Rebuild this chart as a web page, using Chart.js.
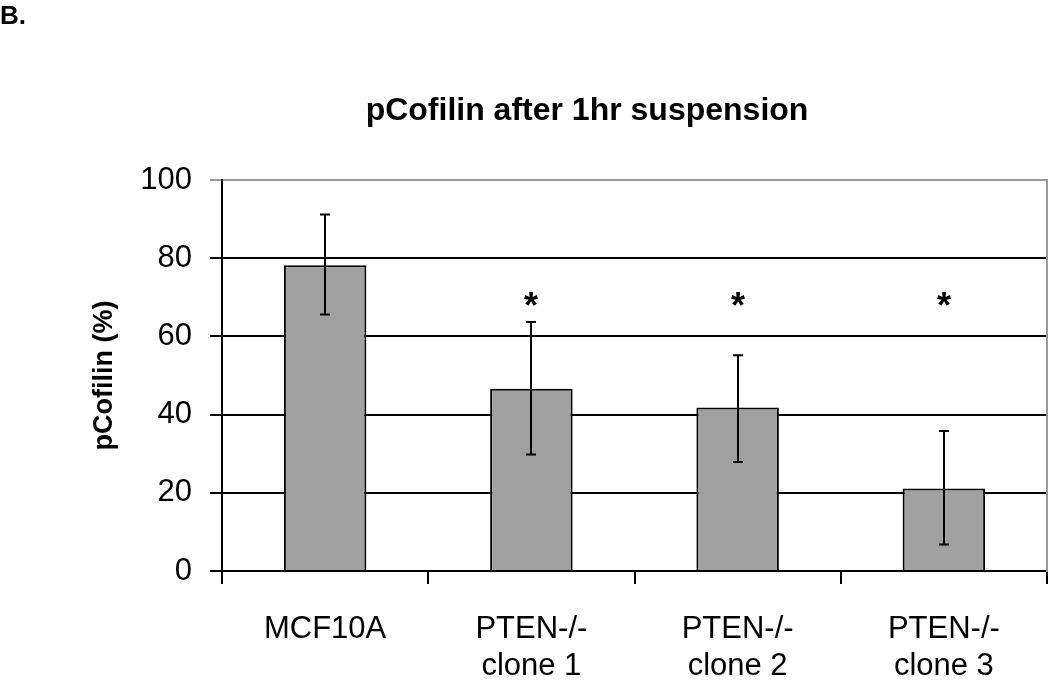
<!DOCTYPE html>
<html lang="en">
<head>
    <meta charset="UTF-8">
    <title>pCofilin after 1hr suspension</title>
    <script src="https://cdn.jsdelivr.net/npm/chart.js"></script>
    <style>
        body {
            margin: 0;
            background: #fff;
            font-family: Arial, "Liberation Sans", sans-serif;
        }

        .wrap {
            position: relative;
            width: 1050px;
            height: 683px;
        }

        .panel-label {
            position: absolute;
            left: 0;
            top: 0;
            font-size: 26px;
            font-weight: bold;
            line-height: 30px;
        }

        .chart-title {
            position: absolute;
            left: 0;
            width: 1174px;
            top: 91px;
            text-align: center;
            font-size: 32px;
            font-weight: bold;
            line-height: 36px;
        }
    </style>
</head>
<body>
<div class="wrap">
    <canvas id="cofilinChart" width="1050" height="683"></canvas>
    <div class="panel-label">B.</div>
    <div class="chart-title">pCofilin after 1hr suspension</div>
</div>

<script>
    const categories = [['MCF10A'], ['PTEN-/-', 'clone 1'], ['PTEN-/-', 'clone 2'], ['PTEN-/-', 'clone 3']];
    const pcofilin = [78.2, 46.6, 41.8, 21.1];
    const errHigh = [91.2, 63.7, 55.2, 35.8];
    const errLow = [65.6, 29.8, 27.9, 6.8];
    const significance = ['', '*', '*', '*'];
    const yTicks = [0, 20, 40, 60, 80, 100];

    const fontFamily = 'Arial, "Liberation Sans", sans-serif';

    // error bars + significance stars
    const errorBarPlugin = {
        id: 'errorBars',
        afterDatasetsDraw(chart, args, opts) {
            const ctx = chart.ctx;
            const y = chart.scales.y;
            const meta = chart.getDatasetMeta(0);
            ctx.save();
            ctx.strokeStyle = '#000';
            ctx.lineWidth = 2;
            meta.data.forEach((bar, i) => {
                const x = Math.round(bar.x);
                const top = y.getPixelForValue(errHigh[i]);
                const bottom = y.getPixelForValue(errLow[i]);
                ctx.beginPath();
                ctx.moveTo(x, top);
                ctx.lineTo(x, bottom);
                ctx.moveTo(x - 5, top);
                ctx.lineTo(x + 5, top);
                ctx.moveTo(x - 5, bottom);
                ctx.lineTo(x + 5, bottom);
                ctx.stroke();

                if (significance[i]) {
                    ctx.fillStyle = '#000';
                    ctx.font = 'bold 36px ' + fontFamily;
                    ctx.textAlign = 'center';
                    ctx.textBaseline = 'alphabetic';
                    ctx.fillText(significance[i], x, y.getPixelForValue(opts.starLevel) + 13);
                }
            });
            ctx.restore();
        }
    };

    new Chart(document.getElementById('cofilinChart').getContext('2d'), {
        type: 'bar',
        data: {
            labels: categories,
            datasets: [{
                label: 'pCofilin (%)',
                data: pcofilin,
                backgroundColor: '#a0a0a0',
                borderColor: '#000',
                borderWidth: 2,
                barPercentage: 0.4,
                categoryPercentage: 1.0
            }]
        },
        options: {
            responsive: false,
            devicePixelRatio: 1,
            animation: false,
            layout: {
                padding: {top: 180, right: 3, left: 0, bottom: 0}
            },
            plugins: {
                legend: {display: false},
                tooltip: {enabled: false},
                errorBars: {starLevel: 68}
            },
            scales: {
                x: {
                    offset: true,
                    grid: {
                        offset: true,
                        drawOnChartArea: false,
                        drawTicks: true,
                        tickLength: 13,
                        color: '#000',
                        lineWidth: 2
                    },
                    border: {color: '#000', width: 2},
                    ticks: {
                        color: '#000',
                        padding: 27,
                        maxRotation: 0,
                        font: {family: fontFamily, size: 31, lineHeight: 1.2}
                    },
                    afterFit: function (scale) {
                        scale.height = 112;
                    }
                },
                y: {
                    min: 0,
                    max: 100,
                    afterBuildTicks: function (scale) {
                        scale.ticks = yTicks.map(v => ({value: v}));
                    },
                    grid: {
                        color: ctx => (ctx.tick && ctx.tick.value === 100) ? '#9a9a9a' : '#000',
                        lineWidth: 2,
                        tickLength: 12
                    },
                    border: {color: '#000', width: 2},
                    ticks: {
                        color: '#000',
                        padding: 18,
                        font: {family: fontFamily, size: 31}
                    },
                    title: {
                        display: true,
                        text: 'pCofilin (%)',
                        color: '#000',
                        padding: {top: 88, bottom: 0},
                        font: {family: fontFamily, size: 27, weight: 'bold', lineHeight: 1.2}
                    },
                    afterFit: function (scale) {
                        scale.width = 222;
                    }
                },
                y2: {
                    position: 'right',
                    min: 0,
                    max: 100,
                    grid: {drawOnChartArea: false, drawTicks: false},
                    ticks: {display: false},
                    border: {color: '#9a9a9a', width: 2},
                    afterFit: function (scale) {
                        scale.width = 0;
                    }
                }
            }
        },
        plugins: [errorBarPlugin]
    });
</script>
</body>
</html>
